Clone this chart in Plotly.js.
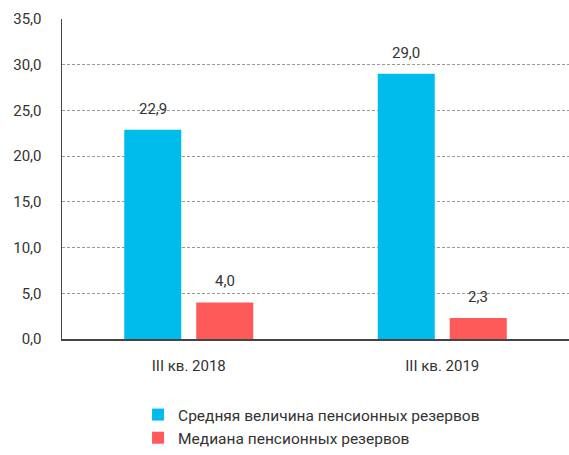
<!DOCTYPE html>
<html>
<head>
<meta charset="utf-8">
<script src="https://cdn.plot.ly/plotly-3.0.1.min.js"></script>
<style>html,body{margin:0;padding:0;background:#fff;}#chart{width:569px;height:455px;}</style>
</head>
<body>
<div id="chart"></div>
<script>
const categories = ["III кв. 2018", "III кв. 2019"];
const seriesNames = ["Средняя величина пенсионных резервов", "Медиана пенсионных резервов"];
const meanValues = [22.9, 29.0];
const medianValues = [4.0, 2.3];
const yTickValues = [0, 5, 10, 15, 20, 25, 30, 35];
const colors = ["#00BCEC", "#FF5A5A"];

const fmt = v => v.toFixed(1).replace('.', ',');
const W = 569, H = 455;
const margin = {l: 62, r: 0, t: 19, b: 116};
const bargap = 0.432, bargroupgap = 0.208;
const slotPx = (W - margin.l - margin.r) / categories.length;
const barSlot = slotPx * (1 - bargap) / 2;
const shift = barSlot / 2;

const font = "Roboto, 'Open Sans', sans-serif";
const traces = [
  {type: 'bar', name: seriesNames[0], x: categories, y: meanValues, marker: {color: colors[0]}, hoverinfo: 'none'},
  {type: 'bar', name: seriesNames[1], x: categories, y: medianValues, marker: {color: colors[1]}, hoverinfo: 'none'}
];

const annotations = [];
[meanValues, medianValues].forEach((vals, si) => {
  vals.forEach((v, i) => {
    annotations.push({
      x: categories[i], y: v, xref: 'x', yref: 'y',
      text: fmt(v), showarrow: false,
      xshift: si === 0 ? -shift : shift,
      yanchor: 'middle', yshift: 21,
      font: {family: font, size: 15, color: '#333'}
    });
  });
});

const layout = {
  width: W, height: H,
  margin: margin,
  paper_bgcolor: '#fff', plot_bgcolor: '#fff',
  barmode: 'group', bargap: bargap, bargroupgap: bargroupgap,
  font: {family: font, size: 15, color: '#333'},
  xaxis: {
    type: 'category', range: [-0.5, 1.5],
    showline: true, linecolor: '#444', linewidth: 1.5,
    ticks: '', showgrid: false, ticklabelstandoff: 12,
    tickfont: {family: font, size: 15, color: '#333'}
  },
  yaxis: {
    range: [0, 35], tickvals: yTickValues, ticktext: yTickValues.map(fmt),
    showline: true, linecolor: '#444', linewidth: 1.5,
    showgrid: true, gridcolor: '#999', griddash: '3px,2px', gridwidth: 1,
    zeroline: false, ticks: '', ticklabelstandoff: 16,
    tickfont: {family: font, size: 15, color: '#333'}
  },
  showlegend: true,
  legend: {
    orientation: 'v', x: 0.15, xanchor: 'left', y: -0.185, yanchor: 'top',
    font: {family: font, size: 15.5, color: '#333'}, tracegroupgap: 0,
    traceorder: 'normal', itemwidth: 30, bgcolor: 'rgba(0,0,0,0)'
  },
  annotations: annotations
};

Plotly.newPlot('chart', traces, layout, {displayModeBar: false, staticPlot: true});
</script>
</body>
</html>
